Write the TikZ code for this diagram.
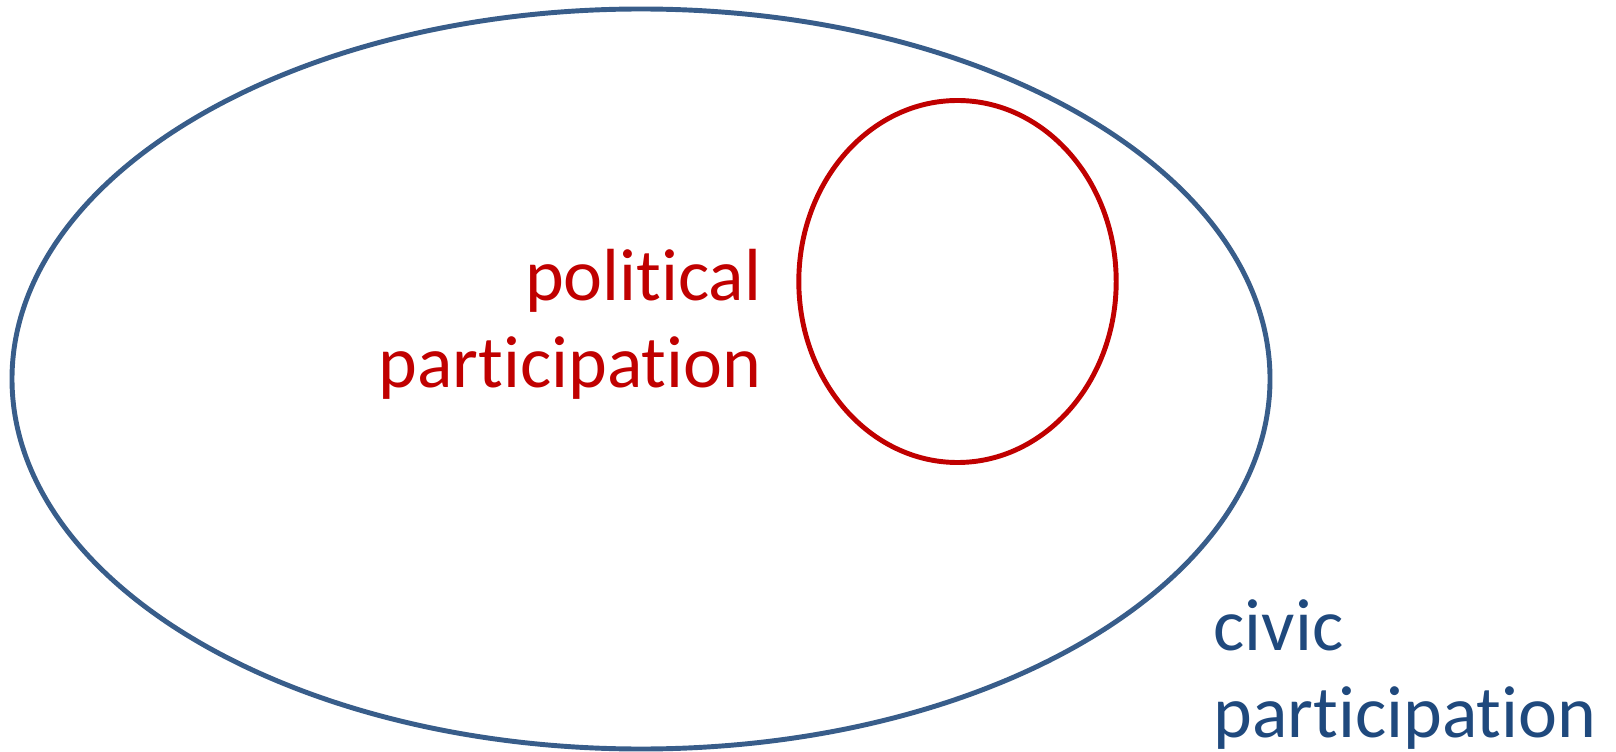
\documentclass[tikz,border=0pt]{standalone}
\usepackage{fontspec}
\setmainfont{Carlito}[Ligatures={NoCommon,NoContextual}]
\definecolor{civicline}{HTML}{385D8A}
\definecolor{civictext}{HTML}{1F497D}
\definecolor{politred}{HTML}{C00000}
\tikzset{
  label text/.style={font=\fontsize{21pt}{24.5pt}\selectfont, inner sep=0pt},
}
\begin{document}
\begin{tikzpicture}[x=0.01cm, y=-0.01cm]
    \useasboundingbox (0, 0) rectangle (1616, 752) ;
    \coordinate (civicc) at (641, 379) ;
    \coordinate (politc) at (957.5, 281.5) ;
    \draw[civicline, line width=1.4pt] (civicc) ellipse [x radius=629, y radius=370] ;
    \draw[politred, line width=1.4pt] (politc) ellipse [x radius=158.7, y radius=181] ;
    \node[label text, politred, align=right, anchor=base east] (polit) at (762, 387) {political\\participation} ;
    \node[label text, civictext, align=left, anchor=base west] (civic) at (1213, 737) {civic\\participation} ;
  \end{tikzpicture}
\end{document}
